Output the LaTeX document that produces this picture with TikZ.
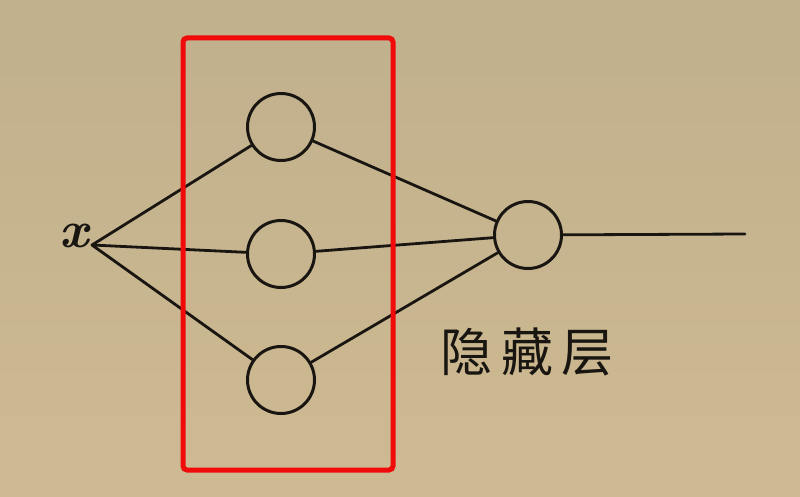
\documentclass[tikz,border=0pt]{standalone}
\usepackage{fontspec}
\newfontfamily\cjk{Noto Sans CJK SC}
\definecolor{bgtop}{RGB}{192,176,140}
\definecolor{bgbot}{RGB}{206,186,146}
\definecolor{ink}{RGB}{25,22,18}
\definecolor{boxred}{RGB}{240,10,10}
\begin{document}
\begin{tikzpicture}[x=1pt,y=-1pt,
  neuron/.style={circle,draw=ink,line width=3pt,minimum size=67pt,inner sep=0pt},
  wire/.style={draw=ink,line width=2.8pt,line cap=round},
  hl/.style={draw=boxred,line width=5pt,rounded corners=4pt}]
\shade[top color=bgtop,bottom color=bgbot] (0,0) rectangle (800,497);
\useasboundingbox (0,0) rectangle (800,497);
\node[font=\fontsize{52}{52}\selectfont\bfseries\itshape,text=ink,inner sep=0pt] (x) at (74,236) {x};
\coordinate (xs) at (92,245);
\node[neuron] (h1) at (281,127) {};
\node[neuron] (h2) at (281,254) {};
\node[neuron] (h3) at (281,380) {};
\node[neuron] (o) at (528,235) {};
\coordinate (out) at (745,234);
\path[wire] (xs) -- (h1);
\path[wire] (xs) -- (h2);
\path[wire] (xs) -- (h3);
\path[wire] (h1) -- (o);
\path[wire] (h2) -- (o);
\path[wire] (h3) -- (o);
\path[wire] (o) -- (out);
\node[hl,minimum width=210pt,minimum height=432pt,inner sep=0pt] (box) at (288,254) {};
\node[font=\cjk\fontsize{52}{52}\selectfont,text=ink] (lbl) at (527,352) {隐\hspace{9pt}藏\hspace{9pt}层};
\end{tikzpicture}
\end{document}
